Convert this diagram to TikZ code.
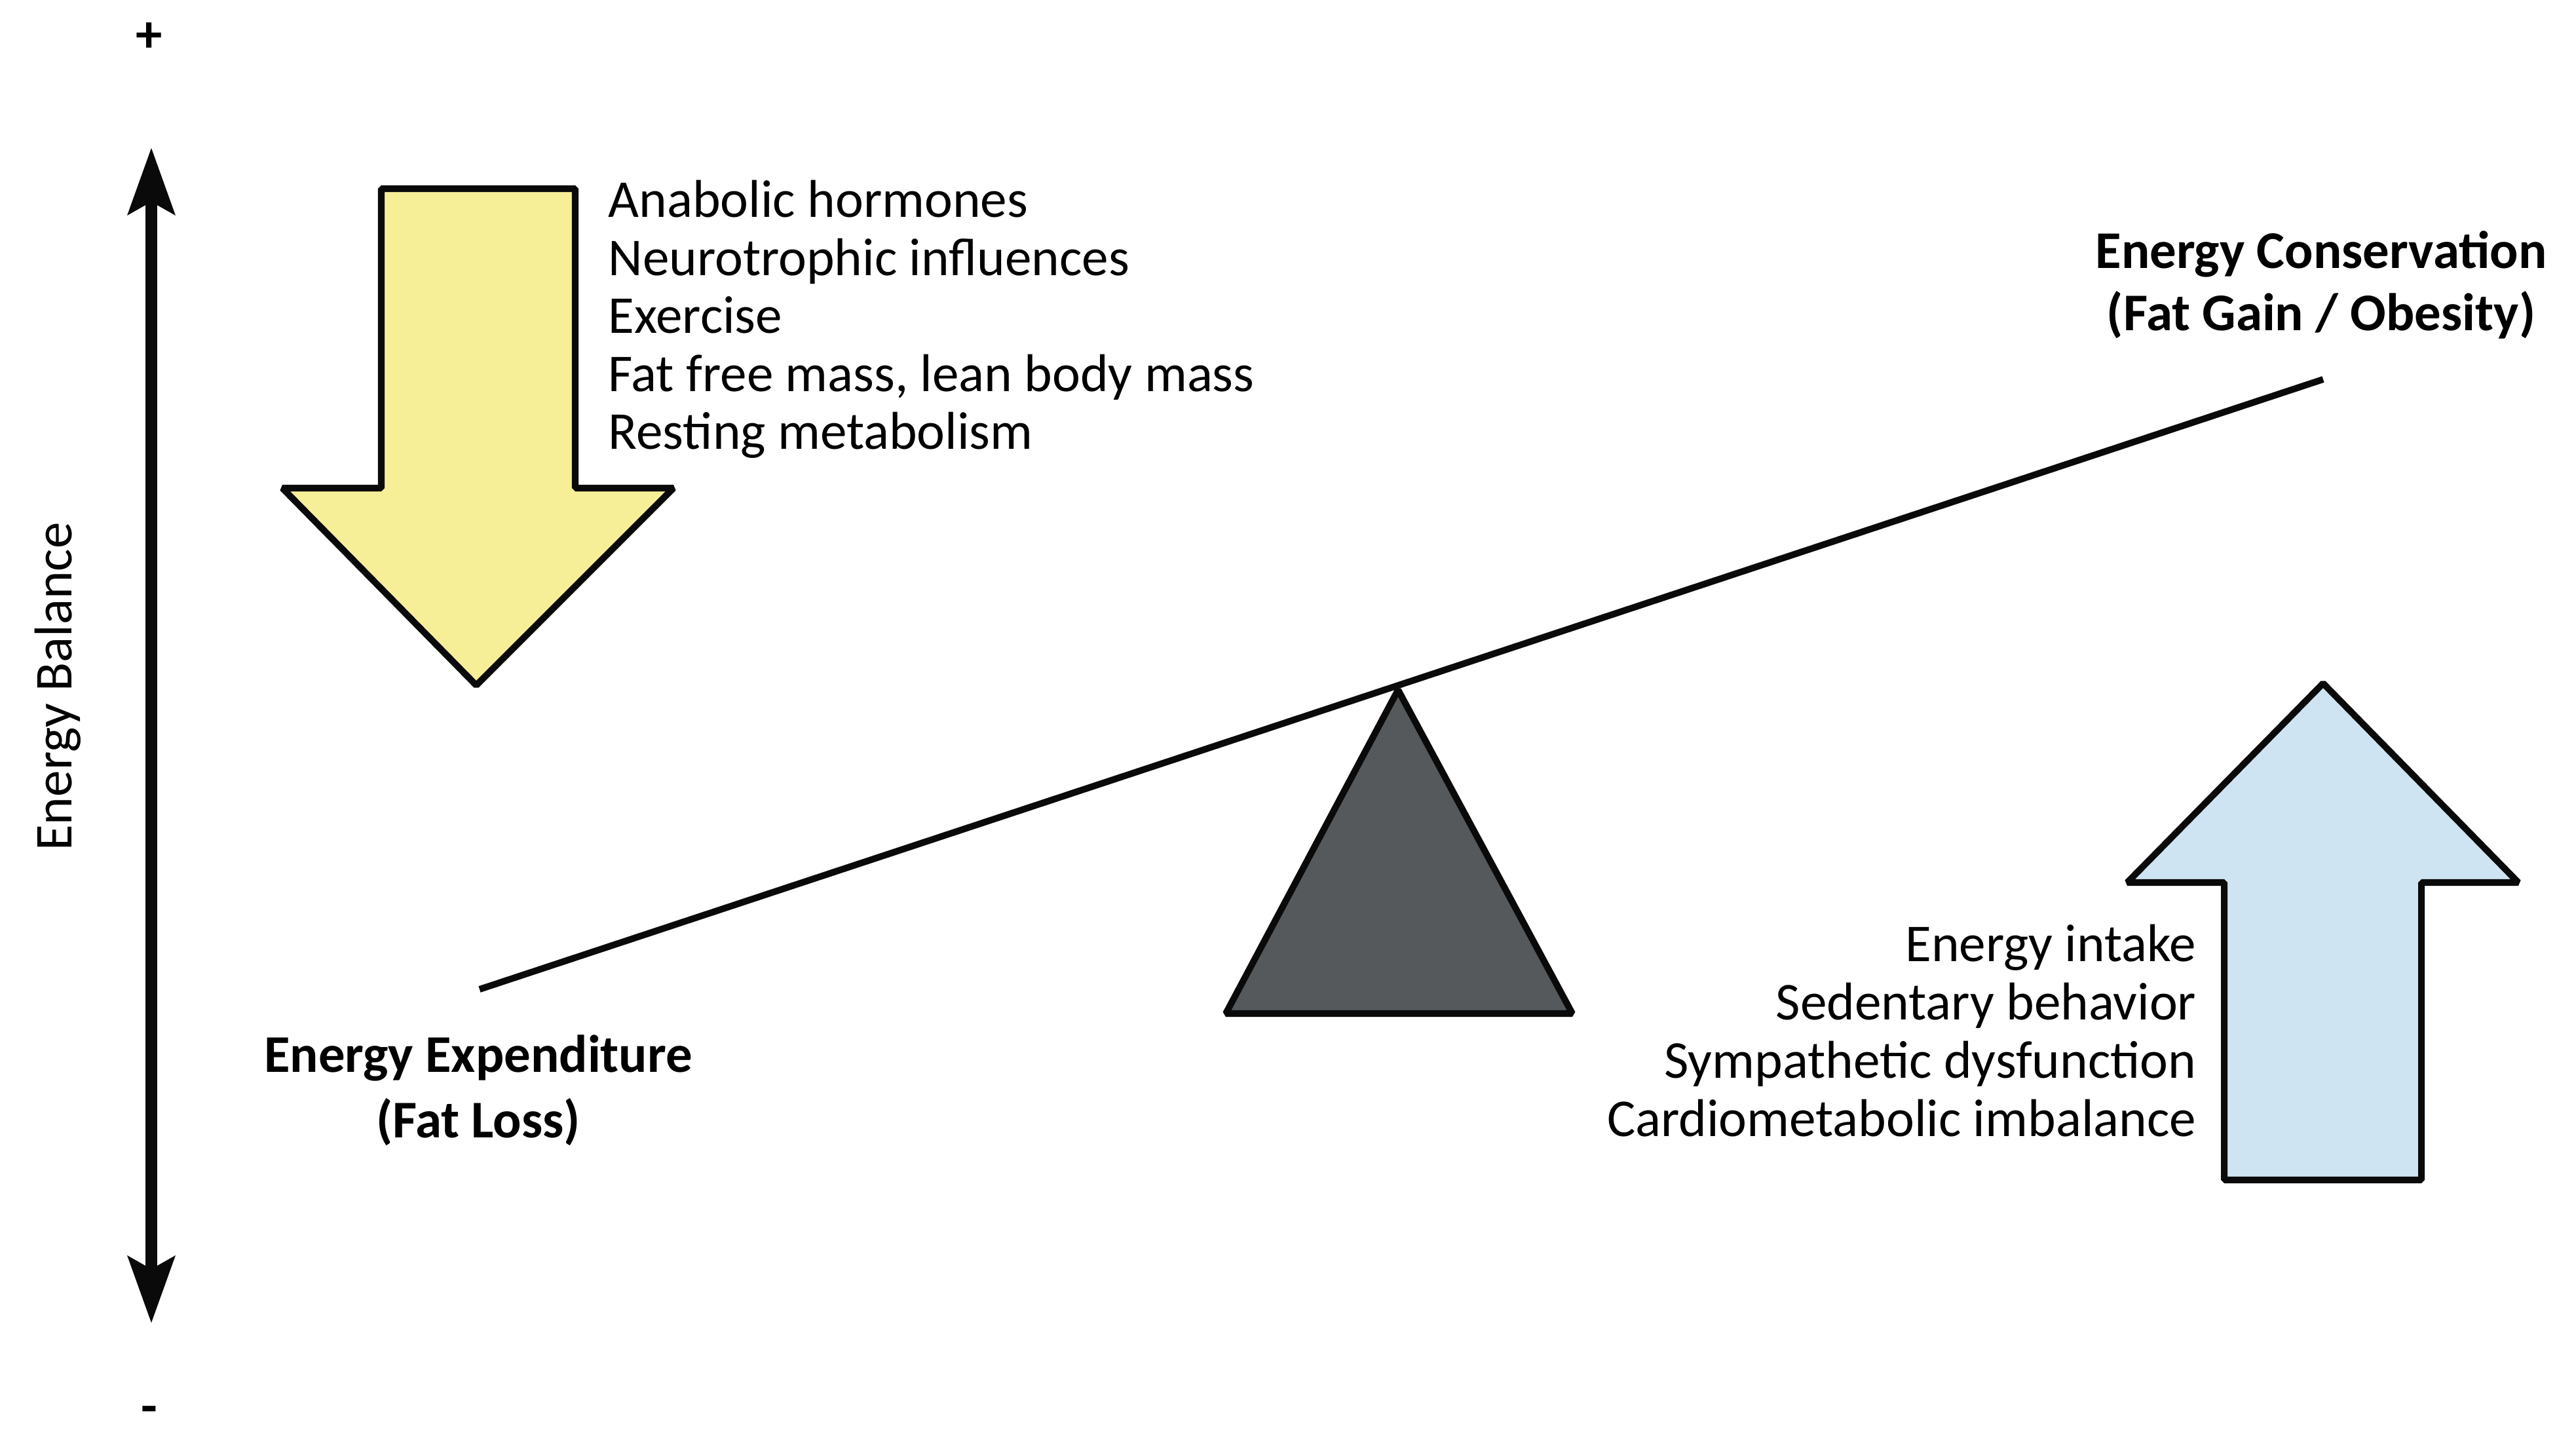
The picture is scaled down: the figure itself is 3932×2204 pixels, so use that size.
\documentclass[tikz,border=0pt]{standalone}
\usepackage{fontspec}
\setmainfont{Carlito}
\definecolor{yfill}{RGB}{247,238,152}
\definecolor{bfill}{RGB}{207,228,242}
\definecolor{gfill}{RGB}{85,89,92}
\definecolor{ink}{RGB}{10,10,10}
\begin{document}
\begin{tikzpicture}[x=0.01cm,y=-0.01cm,
  txt/.style={font=\fontsize{23.1}{25}\selectfont, inner sep=0pt},
  btxt/.style={font=\fontsize{23}{25}\selectfont\bfseries, inner sep=0pt},
  shapeline/.style={draw=ink, line width=2.85pt, line join=bevel},
  axishead/.style={fill=ink, draw=none}]
\useasboundingbox (0,0) rectangle (3932,2204);
% vertical axis
\coordinate (axtop) at (231,226);
\coordinate (axbot) at (231,2019);
\draw[ink, line width=5.1pt] (231,300) -- (231,1945);
\fill[axishead] (axtop) -- (268,329) -- (231,308) -- (194,329) -- cycle;
\fill[axishead] (axbot) -- (268,1916) -- (231,1937) -- (194,1916) -- cycle;
\node[btxt] (plus) at (228,57) {+};
\node[btxt] (minus) at (228,2160) {-};
\node[txt, rotate=90] (eb) at (88,1048) {Energy Balance};
% yellow down arrow
\draw[shapeline, fill=yfill] (582,288) -- (878,288) -- (878,745) -- (1028,745) -- (727,1046) -- (431,745) -- (582,745) -- cycle;
% blue up arrow
\draw[shapeline, fill=bfill] (3395,1801) -- (3696,1801) -- (3696,1347) -- (3844,1347) -- (3546,1043) -- (3247,1347) -- (3395,1347) -- cycle;
% fulcrum
\draw[shapeline, fill=gfill] (2134,1053) -- (2400,1547) -- (1871,1547) -- cycle;
% beam
\coordinate (beamL) at (732,1510);
\coordinate (beamR) at (3546,579);
\draw[ink, line width=2.85pt] (beamL) -- (beamR);
% top-left list
\node[txt, anchor=base west] (t1) at (928,332) {Anabolic hormones};
\node[txt, anchor=base west] (t2) at (928,420.5) {Neurotrophic influences};
\node[txt, anchor=base west] (t3) at (928,509) {Exercise};
\node[txt, anchor=base west] (t4) at (928,597.5) {Fat free mass, lean body mass};
\node[txt, anchor=base west] (t5) at (928,686) {Resting metabolism};
% bottom-right list
\node[txt, anchor=base east] (b1) at (3353,1468) {Energy intake};
\node[txt, anchor=base east] (b2) at (3353,1556.7) {Sedentary behavior};
\node[txt, anchor=base east] (b3) at (3353,1645.4) {Sympathetic dysfunction};
\node[txt, anchor=base east] (b4) at (3353,1734) {Cardiometabolic imbalance};
% bold labels
\node[btxt, anchor=base] (ec1) at (3543,410) {Energy Conservation};
\node[btxt, anchor=base] (ec2) at (3543,505) {(Fat Gain / Obesity)};
\node[btxt, anchor=base] (ee1) at (730,1636) {Energy Expenditure};
\node[btxt, anchor=base] (ee2) at (730,1736) {(Fat Loss)};
\end{tikzpicture}
\end{document}
